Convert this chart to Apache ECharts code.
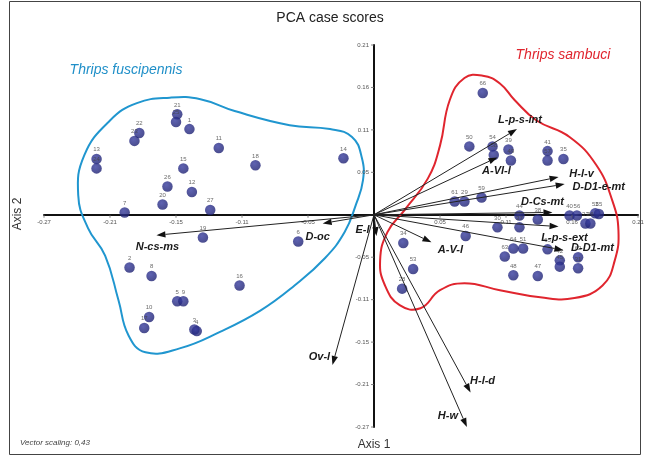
<!DOCTYPE html>
<html><head><meta charset="utf-8">
<script src="https://cdn.jsdelivr.net/npm/echarts@6/dist/echarts.min.js"></script>
<style>html,body{margin:0;padding:0;background:#fff}#c{width:647px;height:460px}</style>
</head><body><div id="c"></div>
<script>
// ---- data ----
const xTickLabels = ["-0.27","-0.21","-0.15","-0.11","-0.05","","0.05","0.11","0.16","0.21"];
const yTickLabels = ["-0.27","-0.21","-0.15","-0.11","-0.05","","0.05","0.11","0.16","0.21"];

// Thrips fuscipennis case scores [axis1, axis2, case]
const fuscipennisPoints = [
  [-0.151,0.109,"1"],[-0.200,-0.067,"2"],[-0.147,-0.146,"3"],[-0.145,-0.148,"4"],
  [-0.161,-0.110,"5"],[-0.062,-0.034,"6"],[-0.204,0.003,"7"],[-0.182,-0.078,"8"],
  [-0.156,-0.110,"9"],[-0.184,-0.130,"10"],[-0.127,0.085,"11"],[-0.149,0.029,"12"],
  [-0.227,0.071,"13"],[-0.025,0.072,"14"],[-0.156,0.059,"15"],[-0.110,-0.090,"16"],
  [-0.188,-0.144,"17"],[-0.097,0.063,"18"],[-0.140,-0.029,"19"],[-0.173,0.013,"20"],
  [-0.161,0.128,"21"],[-0.192,0.104,"22"],[-0.196,0.094,"23"],[-0.227,0.059,"24"],
  [-0.162,0.118,"25"],[-0.169,0.036,"26"],[-0.134,0.006,"27"]
];
// Thrips sambuci case scores [axis1, axis2, case]
const sambuciPoints = [
  [0.023,-0.094,"28"],[0.074,0.017,"29"],[0.101,-0.016,"30"],[0.167,-0.068,"31"],
  [0.173,-0.011,"33"],[0.024,-0.036,"34"],[0.155,0.071,"35"],[0.177,-0.011,"36"],
  [0.119,-0.016,"37"],[0.134,-0.006,"38"],[0.110,0.083,"39"],[0.160,-0.001,"40"],
  [0.142,0.081,"41"],[0.152,-0.058,"42"],[0.119,-0.001,"44"],[0.152,-0.066,"45"],
  [0.075,-0.027,"46"],[0.134,-0.078,"47"],[0.114,-0.077,"48"],[0.112,0.069,"49"],
  [0.078,0.087,"50"],[0.122,-0.043,"51"],[0.181,0.002,"52"],[0.032,-0.069,"53"],
  [0.097,0.087,"54"],[0.184,0.001,"55"],[0.166,-0.001,"56"],[0.142,0.069,"57"],
  [0.098,0.076,"58"],[0.088,0.022,"59"],[0.066,0.017,"61"],[0.167,-0.054,"62"],
  [0.107,-0.053,"63"],[0.114,-0.043,"64"],[0.142,-0.044,"65"],[0.089,0.155,"66"]
];

// variable vectors (scaled 0.43)
const vectorNames = ["L-p-s-int","A-VI-l","H-l-v","D-D1-e-mt","D-Cs-mt","L-p-s-ext","D-D1-mt","A-V-l","H-l-d","H-w","Ov-l","E-l","D-oc","N-cs-ms"];
const vectorX = [0.117,0.101,0.151,0.156,0.146,0.151,0.155,0.047,0.079,0.076,-0.034,0.002,-0.042,-0.178];
const vectorY = [0.109,0.073,0.048,0.039,0.003,-0.015,-0.045,-0.035,-0.226,-0.270,-0.191,-0.027,-0.011,-0.026];

// group outlines
const hullFuscipennis = [
  [-0.167,0.149],[-0.142,0.147],[-0.114,0.132],[-0.069,0.114],[-0.036,0.109],[-0.018,0.099],
  [-0.010,0.073],[-0.009,0.044],[-0.015,0.012],[-0.024,-0.022],[-0.040,-0.055],[-0.065,-0.090],
  [-0.093,-0.122],[-0.126,-0.149],[-0.159,-0.170],[-0.187,-0.175],[-0.201,-0.153],[-0.209,-0.109],
  [-0.220,-0.052],[-0.234,-0.017],[-0.242,0.025],[-0.237,0.076],[-0.216,0.120],[-0.194,0.142]
];
const hullSambuci = [
  [0.089,0.177],[0.103,0.167],[0.115,0.146],[0.133,0.120],[0.160,0.099],[0.182,0.063],
  [0.195,0.018],[0.200,-0.020],[0.197,-0.058],[0.187,-0.090],[0.164,-0.106],[0.136,-0.105],
  [0.103,-0.096],[0.074,-0.087],[0.054,-0.096],[0.038,-0.119],[0.021,-0.115],[0.009,-0.090],
  [0.005,-0.058],[0.011,-0.022],[0.025,0.006],[0.044,0.046],[0.054,0.088],[0.062,0.146],[0.074,0.174]
];

// ---- layout / style ----
const vectorLabelOffsets = [[3,-9],[-1,14],[23,-3],[34,3],[-10,-10],[6,11],[29,-2],[19,8],[12,-11],[-19,-11],[-13,-8],[-14,-6],[-5,14],[1,12]];
const FONT = '"Liberation Sans", Arial, sans-serif';
const TICK = 0.054;
const AXMIN = -0.27;

const chart = echarts.init(document.getElementById('c'), null, {renderer:'canvas'});

const dotColor = {type:'radial', x:0.4, y:0.35, r:0.75, colorStops:[{offset:0,color:'#363b9e'},{offset:1,color:'#1a1d6c'}]};

function hullSeries(points, color){
  return {
    type:'custom', z:1, silent:true, clip:false,
    data: points,
    encode:{x:0,y:1},
    renderItem: function(params, api){
      if (params.dataIndex !== 0) return null;
      const pts = points.map(p => api.coord(p));
      return {type:'polygon', shape:{points:pts, smooth:0.45}, style:{fill:'none', stroke:color, lineWidth:2}};
    }
  };
}

function scatterSeries(points){
  return {
    type:'scatter', z:3, symbolSize:10.5,
    data: points,
    itemStyle:{color:dotColor},
    label:{show:true, position:'top', distance:1, fontSize:6, color:'#444', fontFamily:FONT, formatter:p=>p.data[2]}
  };
}

// tick marks and labels drawn next to the crossing axes
function tickLabelSeries(labels, horizontal){
  return {
    type:'custom', z:4, silent:true, clip:false,
    data: labels.map((t,i)=>[horizontal ? AXMIN + i*TICK : 0, horizontal ? 0 : AXMIN + i*TICK]),
    encode:{x:0,y:1},
    renderItem: function(params, api){
      const p = api.coord([api.value(0), api.value(1)]);
      const txt = labels[params.dataIndex];
      if (!txt) return null;
      const tick = horizontal
        ? {type:'line', shape:{x1:p[0],y1:p[1],x2:p[0],y2:p[1]+3}, style:{stroke:'#666', lineWidth:0.8}}
        : {type:'line', shape:{x1:p[0]-3,y1:p[1],x2:p[0],y2:p[1]}, style:{stroke:'#666', lineWidth:0.8}};
      return {type:'group', children:[tick,
        {type:'text', x: horizontal ? p[0] : p[0]-5, y: horizontal ? p[1]+8 : p[1],
         style:{text:txt, font:'6px '+FONT, fill:'#555', align: horizontal ? 'center' : 'right', verticalAlign:'middle'}}]};
    }
  };
}

const option = {
  animation:false,
  backgroundColor:'#fff',
  grid:{left:44, right:9, top:45, bottom:33},
  xAxis:{
    type:'value', min:AXMIN, max:0.216, interval:TICK,
    axisLine:{onZero:true, lineStyle:{color:'#111', width:2}},
    axisTick:{show:false},
    splitLine:{show:false},
    axisLabel:{show:false}
  },
  yAxis:{
    type:'value', min:AXMIN, max:0.216, interval:TICK,
    axisLine:{onZero:true, lineStyle:{color:'#111', width:2}},
    axisTick:{show:false},
    splitLine:{show:false},
    axisLabel:{show:false}
  },
  series:[
    hullSeries(hullFuscipennis, '#2096cf'),
    hullSeries(hullSambuci, '#e0252e'),
    tickLabelSeries(xTickLabels, true),
    tickLabelSeries(yTickLabels, false),
    scatterSeries(fuscipennisPoints),
    scatterSeries(sambuciPoints),
    {
      type:'custom', z:5, silent:true, clip:false,
      data: vectorX.map((x,i)=>[x, vectorY[i]]),
      encode:{x:0,y:1},
      renderItem: function(params, api){
        const o = api.coord([0,0]);
        const t = api.coord([api.value(0), api.value(1)]);
        const dx=t[0]-o[0], dy=t[1]-o[1];
        const L=Math.hypot(dx,dy)||1, ux=dx/L, uy=dy/L;
        const hl=9, hw=3.2;
        const b=[t[0]-ux*hl, t[1]-uy*hl];
        const off = vectorLabelOffsets[params.dataIndex];
        return {type:'group', children:[
          {type:'line', shape:{x1:o[0],y1:o[1],x2:b[0],y2:b[1]}, style:{stroke:'#222', lineWidth:1}},
          {type:'polygon', shape:{points:[t,[b[0]-uy*hw,b[1]+ux*hw],[b[0]+uy*hw,b[1]-ux*hw]]}, style:{fill:'#111'}},
          {type:'text', x:t[0]+off[0], y:t[1]+off[1], style:{text:vectorNames[params.dataIndex], fill:'#1a1a1a', font:'italic bold 11px '+FONT, align:'center', verticalAlign:'middle'}}
        ]};
      }
    }
  ],
  graphic:[
    {type:'rect', shape:{x:9.5, y:1.5, width:631, height:453}, style:{fill:'none', stroke:'#444', lineWidth:1}, z:-1},
    {type:'text', x:330, y:18, style:{text:'PCA case scores', font:'14px '+FONT, fill:'#222', align:'center', verticalAlign:'middle'}},
    {type:'text', x:126, y:70, style:{text:'Thrips fuscipennis', font:'italic 14px '+FONT, fill:'#1f8fc8', align:'center', verticalAlign:'middle'}},
    {type:'text', x:563, y:55, style:{text:'Thrips sambuci', font:'italic 14px '+FONT, fill:'#e0252e', align:'center', verticalAlign:'middle'}},
    {type:'text', x:18, y:214, rotation:Math.PI/2, style:{text:'Axis 2', font:'12px '+FONT, fill:'#333', align:'center', verticalAlign:'middle'}},
    {type:'text', x:374, y:445, style:{text:'Axis 1', font:'12px '+FONT, fill:'#333', align:'center', verticalAlign:'middle'}},
    {type:'text', x:20, y:443, style:{text:'Vector scaling: 0,43', font:'italic 8px '+FONT, fill:'#444', align:'left', verticalAlign:'middle'}}
  ]
};
chart.setOption(option);
</script></body></html>
